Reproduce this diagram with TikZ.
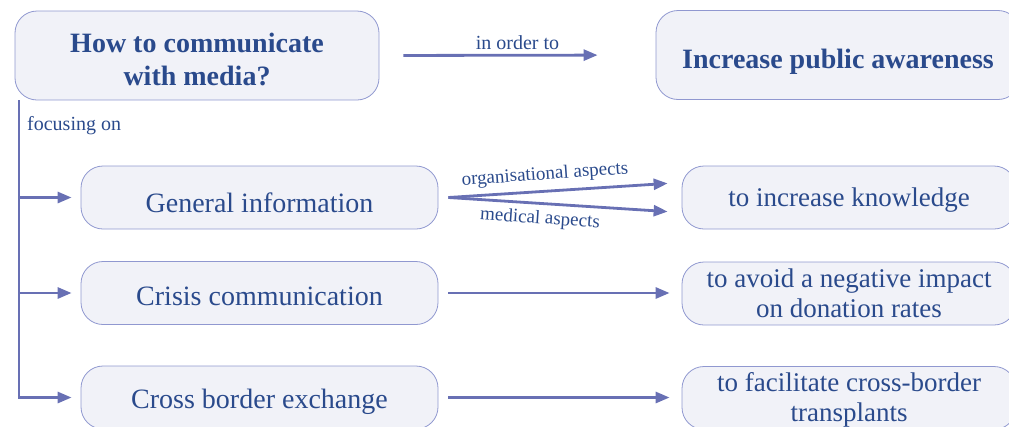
\documentclass[tikz,border=0pt]{standalone}
\usepackage{fontspec}
\setmainfont{Liberation Serif}
\usetikzlibrary{arrows.meta}
\definecolor{txt}{HTML}{2A4A8C}
\definecolor{ln}{HTML}{6870B4}
\definecolor{bd}{HTML}{9098D0}
\definecolor{fl}{HTML}{F1F2F8}
\tikzset{
  box/.style={draw=bd, line width=0.8pt, fill=fl, rounded corners=22pt, text=txt, align=center, inner sep=0pt},
  bigbox/.style={box, minimum width=364pt, minimum height=89pt, font=\fontsize{28}{33}\selectfont\bfseries},
  midbox/.style={box, minimum width=357pt, minimum height=63pt, font=\fontsize{28}{30}\selectfont, text depth=0pt},
  rbox/.style={box, minimum width=334pt, minimum height=63pt, font=\fontsize{27}{29.5}\selectfont},
  arr/.style={draw=ln, line width=2.8pt, -{Triangle[length=14pt,width=11pt]}},
  lbl/.style={text=txt, inner sep=0pt},
}
\begin{document}
\begin{tikzpicture}[x=1pt,y=-1pt]
\useasboundingbox (0,0) rectangle (1009,426);
\clip (0,0) rectangle (1009,426);
\node[bigbox] (q) at (197,55.5) {};
\node[lbl, align=center, font=\fontsize{28}{33}\selectfont\bfseries] (qt) at ([yshift=-3.5pt]q.center) {How to communicate\\with media?};
\node[bigbox, text depth=0pt, text height=27pt] (ipa) at (838,55) {Increase public awareness};
\node[midbox, text height=29pt] (gi) at (259.5,197.5) {General information};
\node[midbox, text height=25pt] (cc) at (259.5,293) {Crisis communication};
\node[midbox, text height=22pt] (cb) at (259.5,397.5) {Cross border exchange};
\node[rbox, text depth=0pt] (ik) at (849,197.5) {to increase knowledge};
\node[rbox] (an) at (849,293.5) {to avoid a negative impact\\on donation rates};
\node[rbox] (ft) at (849,398) {};
\node[lbl, align=center, font=\fontsize{27}{29.5}\selectfont] (ftt) at ([yshift=-2pt]ft.center) {to facilitate cross-border\\transplants};
% top arrow
\draw[arr, shorten <=24pt, shorten >=58pt] (q.east) -- (ipa.west) node[lbl, midway, above=4pt, font=\fontsize{20}{21}\selectfont] {in order to};
% spine
\coordinate (spine) at (19,100);
\node[lbl, anchor=west, font=\fontsize{20}{21}\selectfont] (fo) at (27,126) {focusing on};
\draw[draw=ln, line width=2.8pt] (spine) -- (19,397);
\draw[arr, shorten >=9pt] (spine) |- (gi.west);
\draw[arr, shorten >=9pt] (spine) |- (cc.west);
\draw[arr, shorten >=9pt] (spine) |- (cb.west);
% general info arrows
\coordinate (gs) at ([xshift=10pt]gi.east);
\draw[arr, shorten >=14pt] (gs) -- ([yshift=-15pt]ik.west);
\draw[arr, shorten >=14pt] (gs) -- ([yshift=15pt]ik.west);
\node[lbl, rotate=4, font=\fontsize{19}{20}\selectfont] (oa) at (545,175) {organisational aspects};
\node[lbl, rotate=-4, font=\fontsize{19}{20}\selectfont] (ma) at (540,219) {medical aspects};
\draw[arr, shorten <=10pt, shorten >=12pt] (cc.east) -- (cc.east -| an.west);
\draw[arr, shorten <=10pt, shorten >=12pt] (cb.east) -- (cb.east -| ft.west);
\end{tikzpicture}
\end{document}
